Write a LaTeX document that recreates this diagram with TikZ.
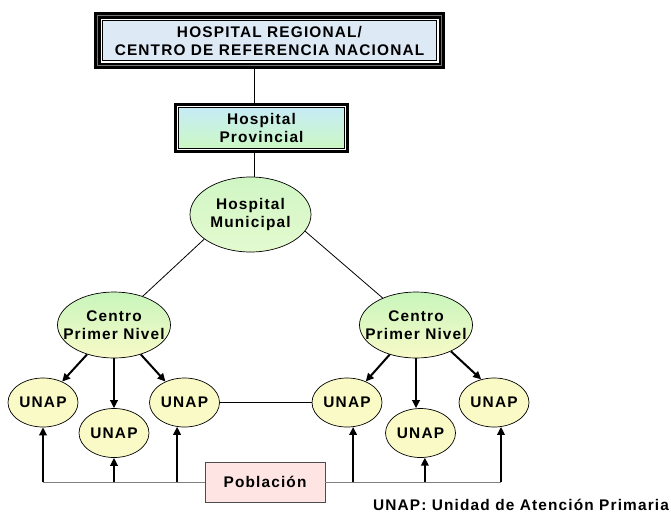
\documentclass[tikz,border=0pt]{standalone}
\usepackage{fontspec}
\setmainfont{Liberation Sans}[LetterSpace=7.5]
\usetikzlibrary{shapes.geometric,arrows.meta}
\pgfdeclarelayer{background}
\pgfsetlayers{background,main}
\definecolor{topblue}{RGB}{222,233,246}
\definecolor{provtop}{RGB}{198,236,246}
\definecolor{provbot}{RGB}{204,248,196}
\definecolor{greentop}{RGB}{200,245,188}
\definecolor{yellowbot}{RGB}{248,250,200}
\definecolor{muntop}{RGB}{208,246,196}
\definecolor{munbot}{RGB}{228,250,208}
\definecolor{unapfill}{RGB}{250,250,198}
\definecolor{popfill}{RGB}{255,228,228}
\begin{document}
\begin{tikzpicture}[x=1pt,y=-1pt,
  every node/.style={font=\fontsize{15.4}{18}\selectfont\bfseries, align=center, inner sep=0pt},
  oval/.style={ellipse, draw=black, line width=0.7pt},
  unap/.style={oval, fill=unapfill, minimum width=70pt, minimum height=49pt},
  centro/.style={oval, top color=greentop, bottom color=yellowbot, minimum width=113pt, minimum height=66pt},
  thinline/.style={draw=black, line width=0.8pt},
  arr/.style={draw=black, line width=2pt, -{Triangle[length=8pt,width=7.5pt]}},
  popline/.style={draw=black!50, line width=1pt},
]
\useasboundingbox (0,0) rectangle (671,512);

\node[minimum width=351pt, minimum height=57pt] (top) at (269.5,40.5) {HOSPITAL REGIONAL/\\CENTRO DE REFERENCIA NACIONAL};
\node[minimum width=175pt, minimum height=50pt] (prov) at (261.5,128) {Hospital\\Provincial};
\node[oval, top color=muntop, bottom color=munbot, minimum width=121pt, minimum height=75pt] (mun) at (250.5,214.5) {Hospital\\Municipal};
\node[centro, label={center:Centro\\Primer Nivel}] (cl) at (114,325) {};
\node[centro, label={center:Centro\\Primer Nivel}] (cr) at (416,325) {};
\node[unap] (u1) at (43,402.5) {UNAP};
\node[unap] (u2) at (114,433) {UNAP};
\node[unap] (u3) at (184.5,402.5) {UNAP};
\node[unap] (u4) at (347,402.5) {UNAP};
\node[unap] (u5) at (420.5,433) {UNAP};
\node[unap] (u6) at (494,402.5) {UNAP};
\node[draw=black!70, fill=popfill, line width=0.8pt, minimum width=120pt, minimum height=40pt] (pop) at (265,482) {Población};
\node[anchor=base] (legend) at (521,510) {UNAP: Unidad de Atención Primaria};

\begin{pgfonlayer}{background}
  \fill[black] (top.north west) rectangle (top.south east);
  \draw[black!55, line width=0.8pt] ([shift={(3.4pt,-3.4pt)}]top.north west) rectangle ([shift={(-3.4pt,3.4pt)}]top.south east);
  \fill[white] ([shift={(6.7pt,-6.7pt)}]top.north west) rectangle ([shift={(-6.7pt,6.7pt)}]top.south east);
  \draw[black, line width=1pt, fill=topblue] ([shift={(8.8pt,-8.8pt)}]top.north west) rectangle ([shift={(-8.8pt,8.8pt)}]top.south east);
  \fill[black] (prov.north west) rectangle (prov.south east);
  \fill[white] ([shift={(3.3pt,-3.3pt)}]prov.north west) rectangle ([shift={(-3.3pt,3.3pt)}]prov.south east);
  \draw[black, line width=0.9pt, top color=provtop, bottom color=provbot] ([shift={(4.8pt,-4.8pt)}]prov.north west) rectangle ([shift={(-4.8pt,4.8pt)}]prov.south east);
\end{pgfonlayer}

\coordinate (vx) at (254,0);
\draw[thinline] (top.south -| vx) -- (prov.north -| vx);
\draw[thinline] (prov.south -| vx) -- (mun.north -| vx);
\draw[thinline] (mun.208) -- (cl.45);
\draw[thinline] (mun.343.6) -- (cr.141.7);
\draw[thinline] (u3) -- (u4);

\draw[arr] (cl) -- (u1);
\draw[arr] (cl.south) -- (u2.north);
\draw[arr] (cl) -- (u3);
\draw[arr] (cr) -- (u4);
\draw[arr] (cr.south) -- (cr.south |- u5.north);
\draw[arr] (cr.323.5) -- (u6.119.4);

\draw[popline] (u1.south |- pop.center) -- (pop.west);
\draw[popline] (pop.east) -- (u6.286 |- pop.center);
\draw[arr] (u1.south |- pop.center) -- (u1.south);
\draw[arr] (u2.south |- pop.center) -- (u2.south);
\draw[arr] (u3.253 |- pop.center) -- (u3.253);
\draw[arr] (u4.284 |- pop.center) -- (u4.284);
\draw[arr] (u5.280 |- pop.center) -- (u5.280);
\draw[arr] (u6.286 |- pop.center) -- (u6.286);
\end{tikzpicture}
\end{document}
